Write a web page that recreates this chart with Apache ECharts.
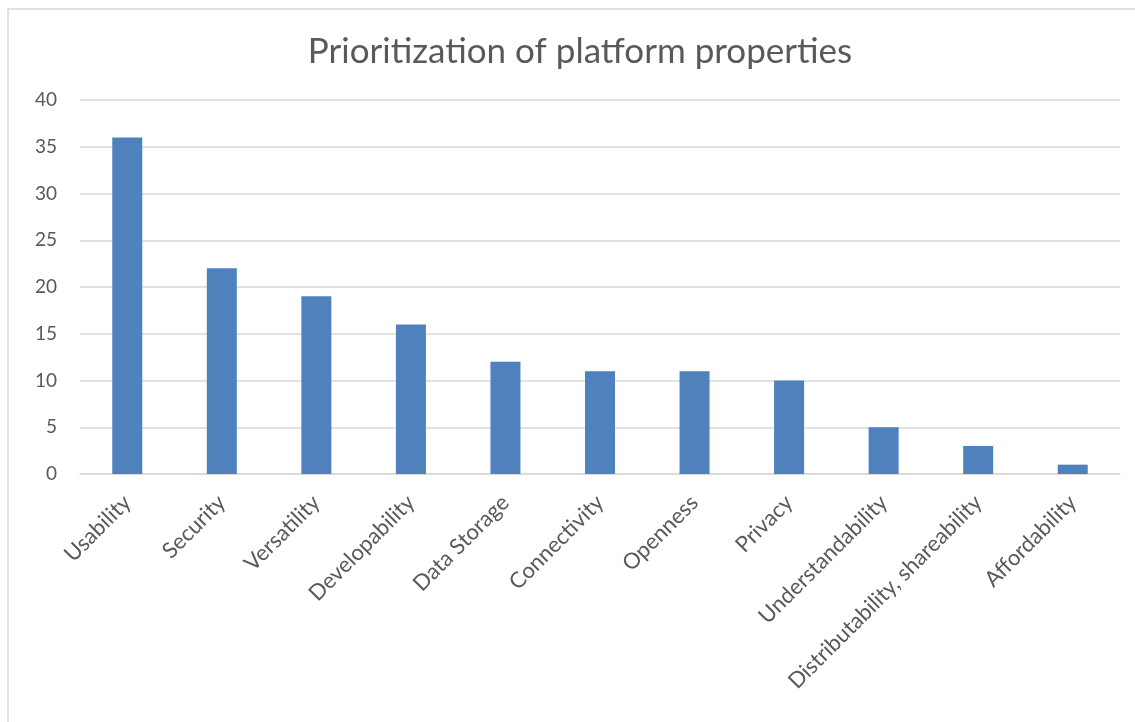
<!DOCTYPE html>
<html>
<head>
<meta charset="utf-8">
<script src="https://cdn.jsdelivr.net/npm/echarts@6/dist/echarts.min.js"></script>
<style>
  html, body { margin: 0; padding: 0; background: #fff; }
  #chart { width: 1135px; height: 722px; }
</style>
</head>
<body>
<div id="chart"></div>
<script>
const categories = [
  'Usability', 'Security', 'Versatility', 'Developability', 'Data Storage',
  'Connectivity', 'Openness', 'Privacy', 'Understandability',
  'Distributability, shareability', 'Affordability'
]
const values = [36, 22, 19, 16, 12, 11, 11, 10, 5, 3, 1]
const titleText = 'Prioritization of platform properties'

const textColor = '#595959'
const gridColor = '#d9d9d9'
const fontFamily = 'Lato, "Open Sans", sans-serif'

const chart = echarts.init(document.getElementById('chart'))
chart.setOption({
  animation: false,
  textStyle: { fontFamily: fontFamily },
  title: {
    text: titleText,
    left: 575,
    textAlign: 'center',
    top: 29,
    textStyle: { fontSize: 35, fontWeight: 'normal', color: textColor, fontFamily: fontFamily }
  },
  graphic: [{
    type: 'rect',
    shape: { x: 8, y: 9, width: 1200, height: 800 },
    style: { fill: 'none', stroke: gridColor, lineWidth: 1.5 },
    silent: true
  }],
  grid: { left: 80, right: 15, top: 100, bottom: 248 },
  xAxis: {
    type: 'category',
    data: categories,
    axisTick: { show: false },
    axisLine: { show: true, lineStyle: { color: gridColor, width: 1.5 } },
    axisLabel: {
      rotate: 45,
      interval: 0,
      fontSize: 22,
      color: textColor,
      margin: 25
    }
  },
  yAxis: {
    type: 'value',
    min: 0,
    max: 40,
    interval: 5,
    axisLine: { show: false },
    axisTick: { show: false },
    axisLabel: { fontSize: 19, color: textColor, margin: 23 },
    splitLine: { lineStyle: { color: gridColor, width: 1.5 } }
  },
  series: [{
    type: 'bar',
    data: values,
    barWidth: 30,
    itemStyle: { color: '#4f81bd' }
  }]
})
</script>
</body>
</html>
